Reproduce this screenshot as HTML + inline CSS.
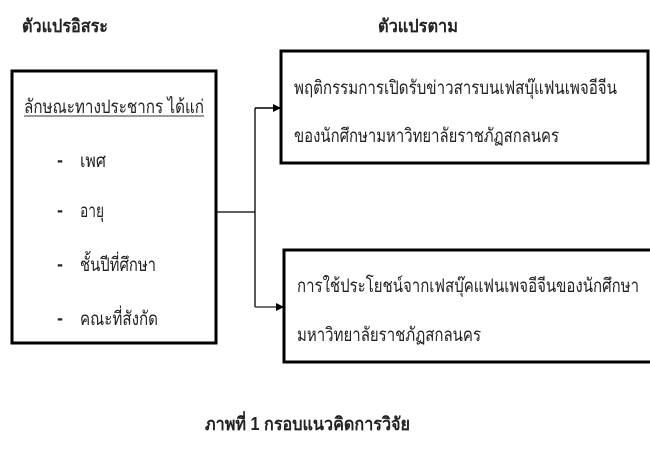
<!DOCTYPE html>
<html><head><meta charset="utf-8"><style>
html,body{margin:0;padding:0;background:#fff;width:650px;height:450px;overflow:hidden}
svg text{font-family:"Liberation Sans","DejaVu Sans",sans-serif;fill:#222}
</style></head><body>
<svg width="650" height="450" viewBox="0 0 650 450">
<defs><marker id="a" markerWidth="8" markerHeight="8" refX="7" refY="4" orient="auto" markerUnits="userSpaceOnUse"><path d="M0,0 L8,4 L0,8 z" fill="#000"/></marker></defs>
<text x="22" y="32" font-size="18" font-weight="bold" textLength="86" lengthAdjust="spacingAndGlyphs">ตัวแปรอิสระ</text>
<text x="378" y="32" font-size="18" font-weight="bold" textLength="80" lengthAdjust="spacingAndGlyphs">ตัวแปรตาม</text>
<rect x="12" y="71" width="204" height="272" fill="none" stroke="#000" stroke-width="3"/>
<rect x="281" y="51" width="367" height="112" fill="none" stroke="#000" stroke-width="3"/>
<rect x="284" y="250" width="368" height="112" fill="none" stroke="#000" stroke-width="3"/>
<path d="M217,212 H255 M255,108 V307" stroke="#000" stroke-width="1.3" fill="none"/>
<path d="M255,108 H280" stroke="#000" stroke-width="1.5" marker-end="url(#a)"/>
<path d="M255,307 H283" stroke="#444" stroke-width="1.5" marker-end="url(#a)"/>
<text x="24" y="113" font-size="19" textLength="180" lengthAdjust="spacingAndGlyphs">ลักษณะทางประชากร ได้แก่</text>
<line x1="24" y1="116" x2="204" y2="116" stroke="#333" stroke-width="1"/>
<g font-weight="bold"><text x="57" y="166" font-size="18">-</text><text x="57" y="216" font-size="18">-</text><text x="57" y="270" font-size="18">-</text><text x="57" y="324" font-size="18">-</text></g>
<text x="80" y="167" font-size="19" textLength="26" lengthAdjust="spacingAndGlyphs">เพศ</text>
<text x="80" y="217" font-size="19" textLength="24" lengthAdjust="spacingAndGlyphs">อายุ</text>
<text x="80" y="271" font-size="19" textLength="76" lengthAdjust="spacingAndGlyphs">ชั้นปีที่ศึกษา</text>
<text x="80" y="325" font-size="19" textLength="78" lengthAdjust="spacingAndGlyphs">คณะที่สังกัด</text>
<text x="294" y="94" font-size="19" textLength="323" lengthAdjust="spacingAndGlyphs">พฤติกรรมการเปิดรับข่าวสารบนเฟสบุ๊แฟนเพจอีจีน</text>
<text x="294" y="142" font-size="19" textLength="265" lengthAdjust="spacingAndGlyphs">ของนักศึกษามหาวิทยาลัยราชภัฏสกลนคร</text>
<text x="297" y="292" font-size="19" textLength="342" lengthAdjust="spacingAndGlyphs">การใช้ประโยชน์จากเฟสบุ๊คแฟนเพจอีจีนของนักศึกษา</text>
<text x="297" y="341" font-size="19" textLength="184" lengthAdjust="spacingAndGlyphs">มหาวิทยาลัยราชภัฏสกลนคร</text>
<text x="205" y="430" font-size="18" font-weight="bold" textLength="205" lengthAdjust="spacingAndGlyphs">ภาพที่ 1 กรอบแนวคิดการวิจัย</text>
</svg>
</body></html>
